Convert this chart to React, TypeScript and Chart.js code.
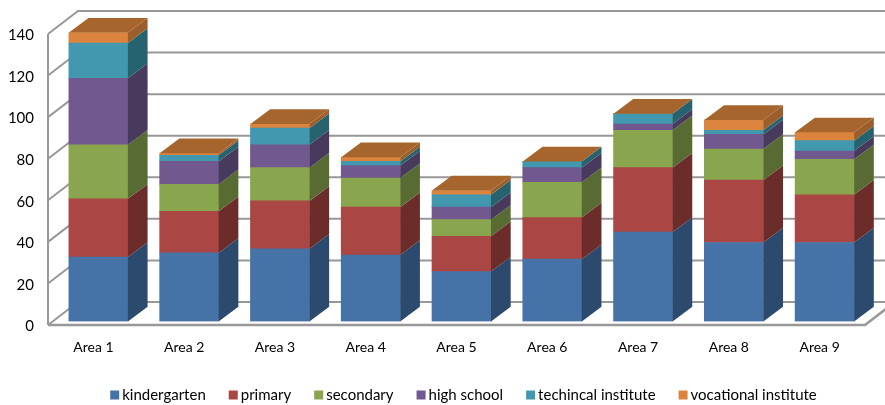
import React, { useEffect, useRef } from "react";
import { Chart, registerables } from "chart.js";

Chart.register(...registerables);

const categories = ["Area 1", "Area 2", "Area 3", "Area 4", "Area 5", "Area 6", "Area 7", "Area 8", "Area 9"];

const kindergarten = [31, 33, 35, 32, 24, 30, 43, 38, 38];
const primary = [28, 20, 23, 23, 17, 20, 31, 30, 23];
const secondary = [26, 13, 16, 14, 8, 17, 18, 15, 17];
const highSchool = [32, 11, 11, 6, 6, 7, 3, 7, 4];
const technicalInstitute = [17, 3, 8, 2, 6, 3, 5, 2, 5];
const vocationalInstitute = [5, 1, 2, 2, 2, 0, 0, 5, 4];

const FONT = "Lato, 'Open Sans', sans-serif";
const GRID = "#989898";
const TEXT = "#000";

// Extrusion of each column and of the chart walls, in pixels.
const BAR_DX = 19.7;
const BAR_DY = 14.7;
const WALL_DX = 30;
const WALL_DY = 23;
const BAR_SHIFT_X = 5;
const BAR_SHIFT_Y = -3.5;

const series = [
  { label: "kindergarten", data: kindergarten, front: "#4572A7", side: "#2C4A6E" },
  { label: "primary", data: primary, front: "#AA4643", side: "#6B2C2A" },
  { label: "secondary", data: secondary, front: "#89A54E", side: "#586B32" },
  { label: "high school", data: highSchool, front: "#71588F", side: "#483A5C" },
  { label: "techincal institute", data: technicalInstitute, front: "#4198AF", side: "#27626F" },
  { label: "vocational institute", data: vocationalInstitute, front: "#DB843D", side: "#9C5F2B" },
];
const TOP_FACE = "#A5652D";

// Back wall, side wall and floor, drawn behind the columns.
const wallsPlugin = {
  id: "walls",
  beforeDatasetsDraw(chart: any) {
    const { ctx, chartArea, scales } = chart;
    const y = scales.y;
    const { left, right, bottom } = chartArea;
    ctx.save();
    ctx.strokeStyle = GRID;
    ctx.lineWidth = 2;
    y.ticks.forEach((t: any) => {
      const py = y.getPixelForValue(t.value);
      ctx.beginPath();
      ctx.moveTo(left, py);
      ctx.lineTo(left + WALL_DX, py - WALL_DY);
      ctx.lineTo(885, py - WALL_DY);
      ctx.stroke();
    });
    ctx.beginPath();
    ctx.moveTo(left, y.getPixelForValue(140));
    ctx.lineTo(left, bottom);
    ctx.stroke();
    ctx.lineWidth = 2.5;
    ctx.beginPath();
    ctx.moveTo(left, bottom);
    ctx.lineTo(right, bottom);
    ctx.lineTo(right + WALL_DX, bottom - WALL_DY);
    ctx.stroke();
    ctx.restore();
    // The columns stand slightly inside the floor.
    ctx.save();
    ctx.translate(BAR_SHIFT_X, BAR_SHIFT_Y);
  },
  afterDatasetsDraw(chart: any) {
    const { ctx } = chart;
    series.forEach((s, i) => {
      const meta = chart.getDatasetMeta(i);
      meta.data.forEach((el: any, j: number) => {
        const { x, y, base, width } = el.getProps(["x", "y", "base", "width"], true);
        const r = x + width / 2;
        if (s.data[j] > 0) {
          ctx.fillStyle = s.side;
          ctx.beginPath();
          ctx.moveTo(r, y);
          ctx.lineTo(r + BAR_DX, y - BAR_DY);
          ctx.lineTo(r + BAR_DX, base - BAR_DY);
          ctx.lineTo(r, base);
          ctx.closePath();
          ctx.fill();
        }
        if (i === series.length - 1) {
          const l = x - width / 2;
          ctx.fillStyle = TOP_FACE;
          ctx.beginPath();
          ctx.moveTo(l, y);
          ctx.lineTo(l + BAR_DX, y - BAR_DY);
          ctx.lineTo(r + BAR_DX, y - BAR_DY);
          ctx.lineTo(r, y);
          ctx.closePath();
          ctx.fill();
        }
      });
    });
    ctx.restore();
  },
};

// Centred legend row with a tight swatch-to-text gap.
const legendRowPlugin = {
  id: "legendRow",
  afterDraw(chart: any) {
    const { ctx } = chart;
    const BOX = 9;
    const BOX_GAP = 3;
    const ITEM_GAP = 23;
    const CY = 395;
    ctx.save();
    ctx.font = `15px ${FONT}`;
    ctx.textBaseline = "middle";
    ctx.textAlign = "left";
    const widths = series.map((s) => ctx.measureText(s.label).width);
    const total = widths.reduce((a, w) => a + w + BOX + BOX_GAP, 0) + ITEM_GAP * (series.length - 1);
    let x = 463.5 - total / 2;
    series.forEach((s, i) => {
      ctx.fillStyle = s.front;
      ctx.fillRect(x, CY - BOX / 2, BOX, BOX);
      ctx.fillStyle = TEXT;
      ctx.fillText(s.label, x + BOX + BOX_GAP, CY);
      x += BOX + BOX_GAP + widths[i] + ITEM_GAP;
    });
    ctx.restore();
  },
};

export default function App() {
  const ref = useRef<HTMLCanvasElement>(null);

  useEffect(() => {
    const chart = new Chart(ref.current!, {
      type: "bar",
      data: {
        labels: categories,
        datasets: series.map((s) => ({
          label: s.label,
          data: s.data,
          backgroundColor: s.front,
          borderWidth: 0,
          barThickness: 59,
        })),
      },
      plugins: [wallsPlugin, legendRowPlugin],
      options: {
        responsive: false,
        animation: false,
        layout: { padding: { top: 34, right: 20, left: 0, bottom: 0 } },
        scales: {
          x: {
            stacked: true,
            grid: { display: false },
            border: { display: false },
            ticks: { color: TEXT, font: { family: FONT, size: 14 }, padding: 6, maxRotation: 0 },
            afterFit(scale: any) {
              scale.height = 80;
            },
          },
          y: {
            stacked: true,
            min: 0,
            max: 140,
            grid: { display: false },
            border: { display: false },
            ticks: { stepSize: 20, color: TEXT, font: { family: FONT, size: 15 }, padding: 6, labelOffset: 1.5 },
            afterFit(scale: any) {
              scale.width = 48;
            },
          },
        },
        plugins: {
          tooltip: { enabled: false },
          title: { display: false },
          legend: { display: false },
        },
      },
    } as any);
    return () => chart.destroy();
  }, []);

  return (
    <canvas
      ref={ref}
      width={885}
      height={405}
      style={{ position: "fixed", left: 0, top: 0, display: "block", width: 885, height: 405, background: "#fff" }}
    />
  );
}
